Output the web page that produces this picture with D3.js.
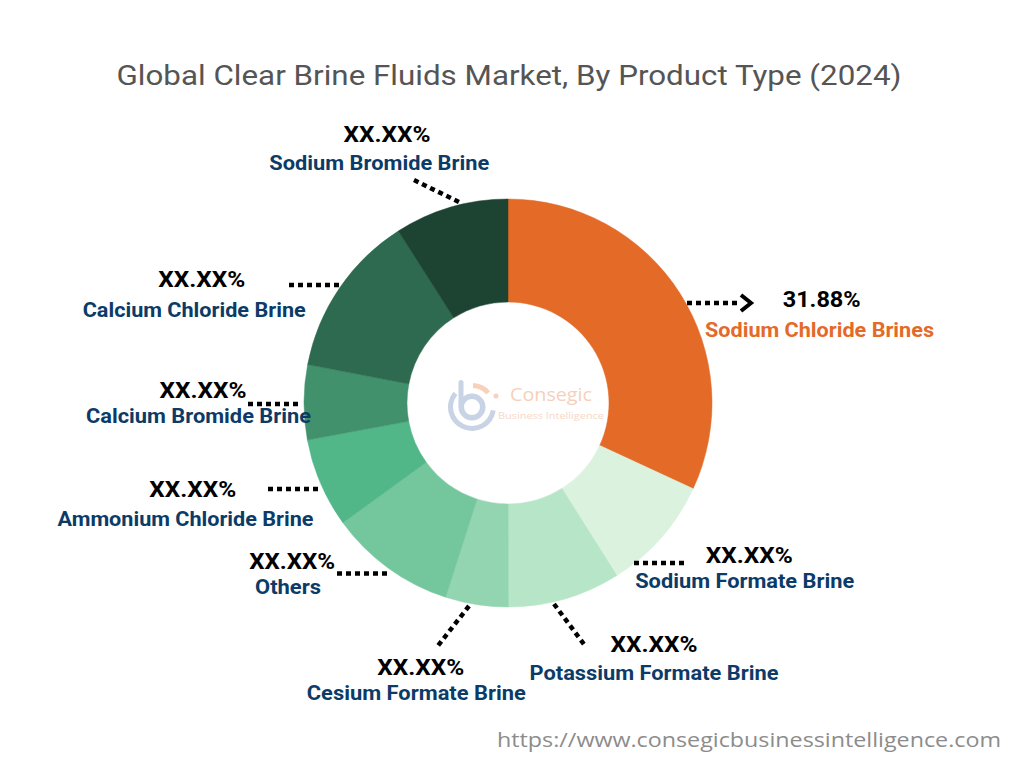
<!DOCTYPE html>
<html>
<head>
<meta charset="utf-8">
<script src="https://cdn.jsdelivr.net/npm/d3@7"></script>
<style>
  html, body { margin: 0; padding: 0; background: #ffffff; }
  svg { display: block; }
</style>
</head>
<body>
<svg id="chart" width="1024" height="768"></svg>
<script>
// ---------------- DATA ----------------
const titleText = "Global Clear Brine Fluids Market, By Product Type (2024)";
const sourceText = "https://www.consegicbusinessintelligence.com";

const categories = [
  "Sodium Chloride Brines",
  "Sodium Formate Brine",
  "Potassium Formate Brine",
  "Cesium Formate Brine",
  "Others",
  "Ammonium Chloride Brine",
  "Calcium Bromide Brine",
  "Calcium Chloride Brine",
  "Sodium Bromide Brine"
];
const values = [31.88, 9.14, 8.92, 4.97, 10.06, 7.08, 5.92, 12.94, 9.03];
const valueLabels = ["31.88%", "XX.XX%", "XX.XX%", "XX.XX%", "XX.XX%", "XX.XX%", "XX.XX%", "XX.XX%", "XX.XX%"];

// ---------------- STYLE / LAYOUT ----------------
const colors = ["#E36A27", "#DAF2DE", "#B6E5C8", "#93D5B1", "#74C69D", "#52B788", "#40916C", "#2D6A4F", "#1D4332"];
const nameColors = ["#E36A27", "#0C3B67", "#0C3B67", "#0C3B67", "#0C3B67", "#0C3B67", "#0C3B67", "#0C3B67", "#0C3B67"];

// label layout: value text (center x, baseline, width), name text (center x, baseline, width), connector (x1,y1,x2,y2)
const labelLayout = [
  { vx: 821.7, vy: 306.5, vw: 78,  nx: 819.5, ny: 337, nw: 229, line: [687, 303, 739, 303], arrow: true },
  { vx: 749.3, vy: 563,   vw: 87,  nx: 744.7, ny: 588, nw: 219, line: [634, 563, 687, 563] },
  { vx: 654,   vy: 652,   vw: 87,  nx: 654,   ny: 679.5, nw: 249, line: [554, 604, 586, 647] },
  { vx: 420.7, vy: 675,   vw: 87,  nx: 416.3, ny: 700, nw: 219, line: [469, 606, 437, 647] },
  { vx: 292.2, vy: 568.5, vw: 86,  nx: 288,   ny: 594, nw: 66,  line: [337, 573.5, 391, 573.5] },
  { vx: 192.7, vy: 497,   vw: 87,  nx: 185.5, ny: 526, nw: 256, line: [268, 489, 321, 489] },
  { vx: 203,   vy: 398,   vw: 87,  nx: 198.5, ny: 423, nw: 225, line: [248, 404, 302, 404] },
  { vx: 201.7, vy: 287,   vw: 87,  nx: 194.2, ny: 316.7, nw: 223, line: [289, 285, 341, 285] },
  { vx: 387,   vy: 141.7, vw: 87,  nx: 379.3, ny: 170, nw: 220, line: [414, 180, 461, 203] }
];

const cx = 508, cy = 403, outerR = 204, innerR = 101;

// ---------------- DRAW ----------------
const svg = d3.select("#chart");

function fit(sel, w) {
  sel.attr("textLength", w).attr("lengthAdjust", "spacingAndGlyphs");
  return sel;
}

// Title
fit(svg.append("text")
  .attr("x", 509).attr("y", 85)
  .attr("text-anchor", "middle")
  .attr("font-family", "Roboto, 'Noto Sans', sans-serif")
  .attr("font-weight", 400)
  .attr("font-size", 28.5)
  .attr("fill", "#555555")
  .text(titleText), 785);

// Donut
const pie = d3.pie().sort(null).value(d => d).startAngle(0).endAngle(2 * Math.PI);
const arc = d3.arc().innerRadius(innerR).outerRadius(outerR);
const arcs = pie(values);

const g = svg.append("g").attr("transform", `translate(${cx},${cy})`);
g.selectAll("path.slice")
  .data(arcs)
  .join("path")
  .attr("class", "slice")
  .attr("d", arc)
  .attr("fill", (d, i) => colors[i])
  .attr("stroke", (d, i) => colors[i])
  .attr("stroke-width", 0.5);

// Watermark logo in the hole
const logo = svg.append("g").attr("opacity", 0.5);
const iconC = [472, 407];
logo.append("path")
  .attr("d", d3.arc().innerRadius(8).outerRadius(13.5).startAngle(0).endAngle(2 * Math.PI)())
  .attr("transform", `translate(${iconC[0]},${iconC[1]})`)
  .attr("fill", "#93A9CC");
logo.append("rect").attr("x", 458.5).attr("y", 380).attr("width", 5).attr("height", 28).attr("rx", 2.5).attr("fill", "#93A9CC");
logo.append("path")
  .attr("d", d3.arc().innerRadius(19).outerRadius(24).startAngle(Math.PI * 0.55).endAngle(Math.PI * 1.72)())
  .attr("transform", `translate(${iconC[0]},${iconC[1]})`)
  .attr("fill", "#93A9CC");
logo.append("path")
  .attr("d", d3.arc().innerRadius(19).outerRadius(24).startAngle(0.05).endAngle(0.85)())
  .attr("transform", `translate(${iconC[0]},${iconC[1]})`)
  .attr("fill", "#F2A47C");
logo.append("circle").attr("cx", 496).attr("cy", 396).attr("r", 2.5).attr("fill", "#F2A47C");
fit(logo.append("text")
  .attr("x", 551).attr("y", 401).attr("text-anchor", "middle")
  .attr("font-family", "'Open Sans', sans-serif").attr("font-size", 18)
  .attr("fill", "#EFA27A").text("Consegic"), 82);
fit(logo.append("text")
  .attr("x", 551).attr("y", 419).attr("text-anchor", "middle")
  .attr("font-family", "'Open Sans', sans-serif").attr("font-size", 9)
  .attr("fill", "#EFB08E").text("Business Intelligence"), 106);

// Labels and connectors
const lg = svg.append("g");
arcs.forEach((a, i) => {
  const L = labelLayout[i];
  const [x1, y1, x2, y2] = L.line;
  lg.append("line")
    .attr("x1", x1).attr("y1", y1).attr("x2", x2).attr("y2", y2)
    .attr("stroke", "#000").attr("stroke-width", 4.5)
    .attr("stroke-dasharray", "5 4");
  if (L.arrow) {
    lg.append("path")
      .attr("d", `M${x2 + 2},${y2 - 8} L${x2 + 12},${y2} L${x2 + 2},${y2 + 8}`)
      .attr("fill", "none").attr("stroke", "#000").attr("stroke-width", 4)
      .attr("stroke-linejoin", "miter");
  }
  fit(lg.append("text")
    .attr("x", L.vx).attr("y", L.vy)
    .attr("text-anchor", "middle")
    .attr("font-family", "Roboto, 'Noto Sans', sans-serif")
    .attr("font-weight", 700).attr("font-size", 22)
    .attr("fill", "#000")
    .text(valueLabels[i]), L.vw);
  fit(lg.append("text")
    .attr("x", L.nx).attr("y", L.ny)
    .attr("text-anchor", "middle")
    .attr("font-family", "Roboto, 'Noto Sans', sans-serif")
    .attr("font-weight", 700).attr("font-size", 21)
    .attr("fill", nameColors[i])
    .text(categories[i]), L.nw);
});

// Source URL
fit(svg.append("text")
  .attr("x", 749).attr("y", 747)
  .attr("text-anchor", "middle")
  .attr("font-family", "'Open Sans', sans-serif")
  .attr("font-size", 20)
  .attr("fill", "#8c8c8c")
  .text(sourceText), 504);
</script>
</body>
</html>
